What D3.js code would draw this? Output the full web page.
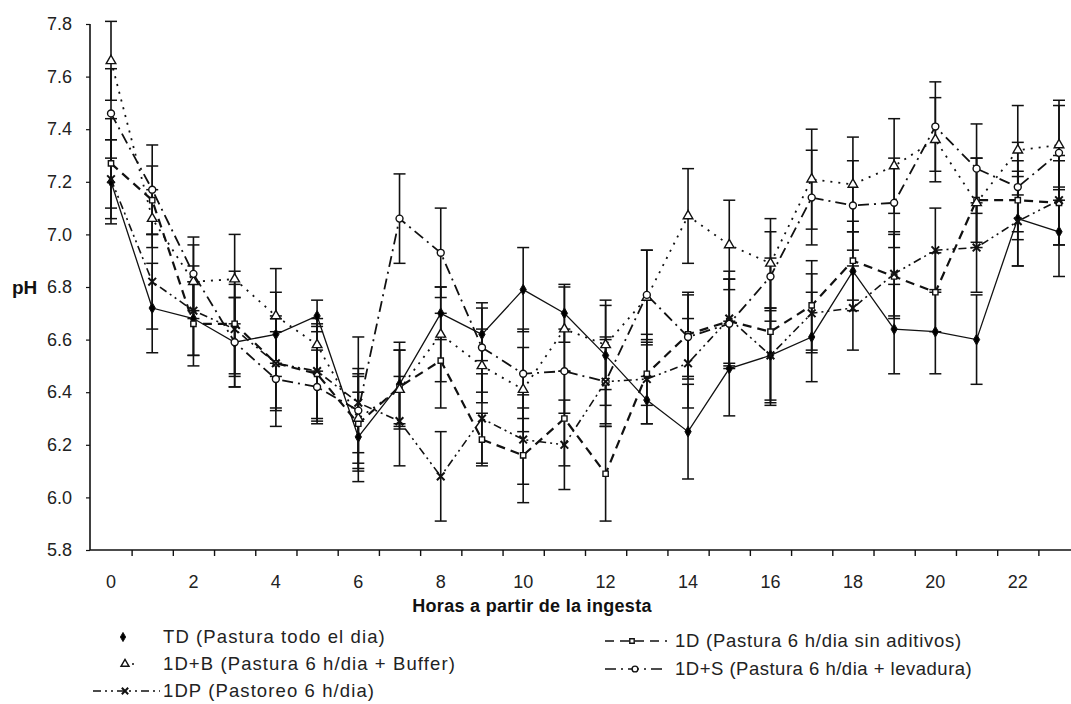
<!DOCTYPE html>
<html><head><meta charset="utf-8">
<script src="https://cdn.jsdelivr.net/npm/d3@7"></script>
<style>
html,body{margin:0;padding:0;background:#fff;}
svg{display:block;font-family:"Liberation Sans",Arial,sans-serif;}
</style></head>
<body><svg id="chart" width="1071" height="704"></svg>
<script>
// ---- data ----
const hours = [0,1,2,3,4,5,6,7,8,9,10,11,12,13,14,15,16,17,18,19,20,21,22,23];
const xTickLabels = [0,2,4,6,8,10,12,14,16,18,20,22];
const yTickValues = [5.8,6.0,6.2,6.4,6.6,6.8,7.0,7.2,7.4,7.6,7.8];

const seriesNames = [
  "TD (Pastura todo el dia)",
  "1D (Pastura 6 h/dia sin aditivos)",
  "1D+B (Pastura 6 h/dia + Buffer)",
  "1D+S (Pastura 6 h/dia + levadura)",
  "1DP (Pastoreo 6 h/dia)"
];
const td  = [7.20,6.72,6.68,6.59,6.62,6.69,6.23,6.43,6.70,6.62,6.79,6.70,6.54,6.37,6.25,6.49,6.54,6.61,6.86,6.64,6.63,6.60,7.06,7.01];
const d1  = [7.27,7.13,6.66,6.66,6.51,6.47,6.28,6.42,6.52,6.22,6.16,6.30,6.09,6.47,6.62,6.67,6.63,6.73,6.90,6.84,6.78,7.13,7.13,7.12];
const d1b = [7.66,7.06,6.82,6.83,6.69,6.58,6.30,6.41,6.62,6.50,6.41,6.64,6.58,6.76,7.07,6.96,6.89,7.21,7.19,7.26,7.36,7.12,7.32,7.34];
const d1s = [7.46,7.17,6.85,6.59,6.45,6.42,6.33,7.06,6.93,6.57,6.47,6.48,6.44,6.77,6.61,6.66,6.84,7.14,7.11,7.12,7.41,7.25,7.18,7.31];
const dp  = [7.21,6.82,6.71,6.64,6.51,6.48,6.36,6.29,6.08,6.30,6.22,6.20,6.44,6.45,6.51,6.68,6.54,6.70,6.72,6.85,6.94,6.95,7.05,7.13];
// standard errors
const tdSE  = [0.16,0.17,0.14,0.17,0.16,0.06,0.17,0.16,0.10,0.10,0.16,0.11,0.19,0.09,0.18,0.18,0.18,0.17,0.15,0.17,0.16,0.17,0.18,0.17];
const d1SE  = [0.17,0.13,0.16,0.20,0.18,0.18,0.18,0.14,0.18,0.10,0.18,0.18,0.18,0.12,0.16,0.16,0.28,0.17,0.15,0.16,0.15,0.16,0.15,0.16];
const d1bSE = [0.15,0.11,0.14,0.17,0.18,0.10,0.17,0.15,0.18,0.14,0.16,0.16,0.17,0.18,0.18,0.17,0.17,0.19,0.18,0.18,0.16,0.17,0.17,0.17];
const d1sSE = [0.17,0.17,0.14,0.17,0.18,0.14,0.16,0.17,0.17,0.17,0.17,0.16,0.16,0.17,0.16,0.17,0.17,0.18,0.17,0.17,0.17,0.17,0.17,0.18];
const dpSE  = [0.15,0.18,0.17,0.17,0.17,0.18,0.25,0.17,0.17,0.17,0.17,0.17,0.17,0.17,0.17,0.18,0.17,0.15,0.16,0.16,0.16,0.17,0.17,0.17];

const values = [td, d1, d1b, d1s, dp];
const errors = [tdSE, d1SE, d1bSE, d1sSE, dpSE];
const styles = [
  {dash:null,          w:1.3, sym:d3.symbolDiamond,  size:34, fill:"#000", sw:1},
  {dash:"9,6",         w:2.2, sym:d3.symbolSquare,   size:28, fill:"#fff", sw:1.4},
  {dash:"2,6",         w:1.8, sym:d3.symbolTriangle, size:40, fill:"#fff", sw:1.4},
  {dash:"11,5,2,5",    w:1.8, sym:d3.symbolCircle,   size:38, fill:"#fff", sw:1.4},
  {dash:"8,4,2,4,2,4", w:1.6, sym:d3.symbolTimes,    size:40, fill:"none", sw:2}
];

// ---- chart ----
const svg = d3.select("#chart");
const x = d3.scaleLinear().domain([0,23]).range([111,1059]);
const y = d3.scaleLinear().domain([5.8,7.8]).range([550,24]);
const ink = "#111";

// y axis
const yAxis = svg.append("g").attr("transform","translate(90,0)")
  .call(d3.axisLeft(y).tickValues(yTickValues).tickFormat(d3.format(".1f")).tickSize(4).tickPadding(14));
yAxis.select(".domain").attr("stroke",ink).attr("stroke-width",1.6).attr("d","M0,24V550");
yAxis.selectAll(".tick line").attr("stroke",ink).attr("stroke-width",1.2);
yAxis.selectAll(".tick text").attr("fill","#222").style("font-size","18px");

// x axis
const xAxis = svg.append("g").attr("transform","translate(0,550)")
  .call(d3.axisBottom(x).tickValues(hours.map(h=>h+0.5)).tickFormat("").tickSize(6));
xAxis.select(".domain").attr("stroke",ink).attr("stroke-width",1.6).attr("d","M90,0H1071");
xAxis.selectAll(".tick line").attr("stroke",ink).attr("stroke-width",1.4);
svg.append("g").selectAll("text").data(xTickLabels).join("text")
  .attr("x",d=>x(d)).attr("y",588).attr("text-anchor","middle")
  .attr("fill","#222").style("font-size","18px").text(d=>d);

// axis titles
svg.append("text").attr("x",12).attr("y",294).attr("font-weight","bold")
  .style("font-size","19px").attr("fill","#111").text("pH");
svg.append("text").attr("x",532).attr("y",612).attr("text-anchor","middle").attr("font-weight","bold")
  .style("font-size","18px").attr("fill","#111").style("letter-spacing","0.3px").text("Horas a partir de la ingesta");

// error bars
values.forEach((vals,si)=>{
  const g = svg.append("g");
  vals.forEach((v,i)=>{
    const e = errors[si][i];
    const cx = x(hours[i]);
    g.append("line").attr("x1",cx).attr("x2",cx).attr("y1",y(v-e)).attr("y2",y(v+e))
      .attr("stroke",ink).attr("stroke-width",1.6);
    [v-e, v+e].forEach(t=>{
      g.append("line").attr("x1",cx-6).attr("x2",cx+6).attr("y1",y(t)).attr("y2",y(t))
        .attr("stroke",ink).attr("stroke-width",1.5);
    });
  });
});

// lines
const line = d3.line().x((d,i)=>x(hours[i])).y(d=>y(d));
values.forEach((vals,si)=>{
  const st = styles[si];
  svg.append("path").datum(vals).attr("d",line).attr("fill","none")
    .attr("stroke",ink).attr("stroke-width",st.w)
    .attr("stroke-dasharray",st.dash);
});

// markers
values.forEach((vals,si)=>{
  const st = styles[si];
  const sym = d3.symbol().type(st.sym).size(st.size);
  svg.append("g").selectAll("path").data(vals).join("path")
    .attr("transform",(d,i)=>`translate(${x(hours[i])},${y(d)})`)
    .attr("d",sym).attr("fill",st.fill).attr("stroke",ink).attr("stroke-width",st.sw);
});

// legend
const legendPos = [
  {lx1:123, lx2:123, mx:123, tx:163, ty:643, ls:1.1},
  {lx1:605, lx2:667, mx:632, tx:675, ty:647, ls:0.75},
  {lx1:124, lx2:140, mx:125, tx:163, ty:670, ls:1.1},
  {lx1:605, lx2:667, mx:635, tx:675, ty:675, ls:0.5},
  {lx1:93,  lx2:160, mx:125, tx:163, ty:697, ls:1.1}
];
seriesNames.forEach((name,si)=>{
  const p = legendPos[si], st = styles[si];
  const g = svg.append("g");
  if (p.lx2>p.lx1) {
    g.append("line").attr("x1",p.lx1).attr("x2",p.lx2).attr("y1",p.ty-6).attr("y2",p.ty-6)
      .attr("stroke",ink).attr("stroke-width",Math.min(st.w,1.6)).attr("stroke-dasharray",st.dash);
  }
  g.append("path").attr("transform",`translate(${p.mx},${p.ty-6})`)
    .attr("d",d3.symbol().type(st.sym).size(st.size*0.7)).attr("fill",st.fill)
    .attr("stroke",ink).attr("stroke-width",st.sw);
  g.append("text").attr("x",p.tx).attr("y",p.ty).style("font-size","18.5px")
    .style("letter-spacing",p.ls+"px").attr("fill","#222").text(name);
});
</script></body></html>
